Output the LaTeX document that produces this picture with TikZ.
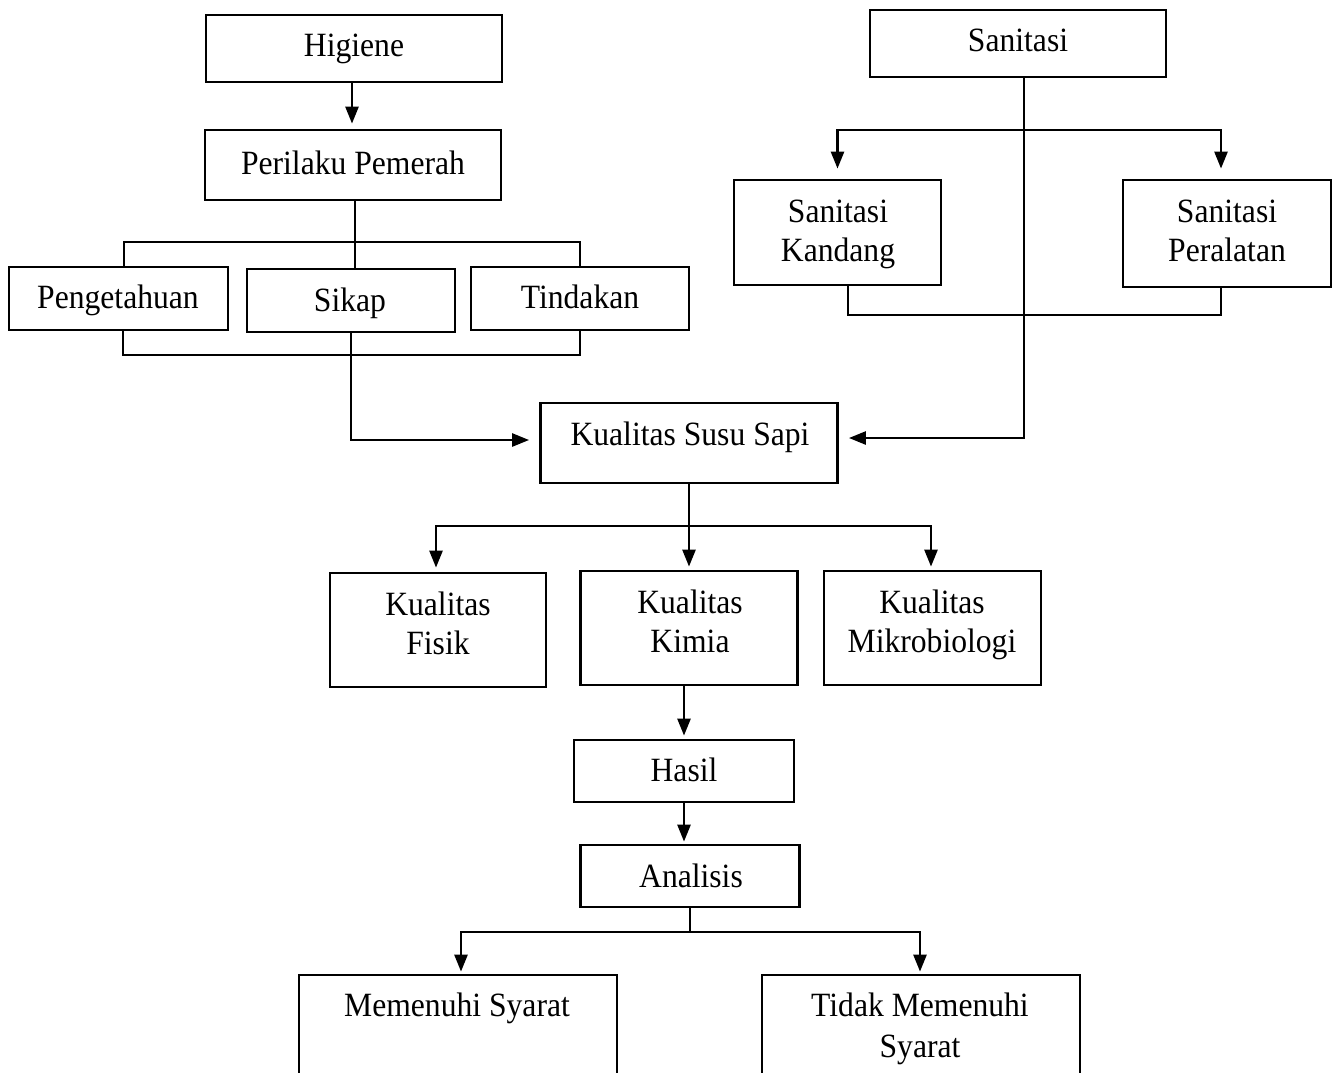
\documentclass[tikz,border=0pt]{standalone}
\usepackage{fontspec}
\setmainfont{Liberation Serif}[FakeStretch=0.93]
\usetikzlibrary{arrows.meta,calc}
\begin{document}
\begin{tikzpicture}[x=1pt,y=-1pt,
  box/.style={draw, line width=2.8pt, inner sep=0pt, rectangle},
  lbl/.style={font=\fontsize{34}{40}\selectfont, inner sep=0pt, align=center},
  conn/.style={line width=2.6pt},
  arr/.style={line width=2.6pt, -{Triangle[length=17pt,width=13pt]}}]
\useasboundingbox (0,0) rectangle (1335,1072);
% boxes
\node[box, minimum width=296pt, minimum height=67pt] (hig) at (354,48.5) {};
\node[box, minimum width=296pt, minimum height=70pt] (per) at (353,165) {};
\node[box, minimum width=219pt, minimum height=63pt] (pen) at (118.5,298.5) {};
\node[box, minimum width=208pt, minimum height=63pt] (sik) at (351,300.5) {};
\node[box, minimum width=218pt, minimum height=63pt] (tin) at (580,298.5) {};
\node[box, minimum width=297pt, minimum height=80pt] (kss) at (689,443) {};
\node[box, minimum width=296pt, minimum height=67pt] (san) at (1018,43.5) {};
\node[box, minimum width=207pt, minimum height=105pt] (sk) at (837.5,232.5) {};
\node[box, minimum width=208pt, minimum height=107pt] (sp) at (1227,233.5) {};
\node[box, minimum width=216pt, minimum height=114pt] (kf) at (438,630) {};
\node[box, minimum width=217pt, minimum height=114pt] (kk) at (689,628) {};
\node[box, minimum width=217pt, minimum height=114pt] (km) at (932.5,628) {};
\node[box, minimum width=220pt, minimum height=62pt] (has) at (684,771) {};
\node[box, minimum width=219pt, minimum height=62pt] (ana) at (690,876) {};
\node[box, minimum width=318pt, minimum height=125pt] (mem) at (458,1037.5) {};
\node[box, minimum width=318pt, minimum height=125pt] (tid) at (921,1037.5) {};
% labels
\node[lbl, anchor=base] (thig) at (354,56) {Higiene};
\node[lbl, anchor=base] (tper) at (353,174) {Perilaku Pemerah};
\node[lbl, anchor=base] (tpen) at (118,308) {Pengetahuan};
\node[lbl, anchor=base] (tsik) at (350,311) {Sikap};
\node[lbl, anchor=base] (ttin) at (580,308) {Tindakan};
\node[lbl, anchor=base] (tsan) at (1018,51) {Sanitasi};
\node[lbl, anchor=base] (tsk1) at (838,222) {Sanitasi};
\node[lbl, anchor=base] (tsk2) at (838,261) {Kandang};
\node[lbl, anchor=base] (tsp1) at (1227,222) {Sanitasi};
\node[lbl, anchor=base] (tsp2) at (1227,261) {Peralatan};
\node[lbl, anchor=base] (tkss) at (690,445) {Kualitas Susu Sapi};
\node[lbl, anchor=base] (tkf1) at (438,615) {Kualitas};
\node[lbl, anchor=base] (tkf2) at (438,654) {Fisik};
\node[lbl, anchor=base] (tkk1) at (690,613) {Kualitas};
\node[lbl, anchor=base] (tkk2) at (690,652) {Kimia};
\node[lbl, anchor=base] (tkm1) at (932,613) {Kualitas};
\node[lbl, anchor=base] (tkm2) at (932,652) {Mikrobiologi};
\node[lbl, anchor=base] (thas) at (684,781) {Hasil};
\node[lbl, anchor=base] (tana) at (691,887) {Analisis};
\node[lbl, anchor=base] (tmem) at (457,1016) {Memenuhi Syarat};
\node[lbl, anchor=base] (ttid1) at (920,1016) {Tidak Memenuhi};
\node[lbl, anchor=base] (ttid2) at (920,1057) {Syarat};
% junction coordinates
\coordinate (pbar) at (355,242);
\coordinate (pbot) at (352,355);
\coordinate (sbar) at (1024,130);
\coordinate (sbot) at (1024,315);
\coordinate (kbar) at (689,526);
\coordinate (abar) at (690,932);
% connectors
\draw[arr, shorten >=5pt] ($(hig.south)+(-2,0)$) -- ($(hig.south |- per.north)+(-2,0)$);
\draw[conn] (pbar |- per.south) -- (pbar |- sik.north);
\draw[conn] ($(pen.north)+(5.5,0)$) |- (pbar) -| (tin.north);
\draw[conn] ($(pen.south)+(4.5,0)$) |- (pbot) -| (tin.south);
\draw[arr, shorten >=10pt] (sik.south) |- ($(kss.west)+(0,-3)$);
\draw[arr, shorten >=10pt] (sbar |- san.south) |- ($(kss.east)+(0,-5)$);
\draw[arr, shorten >=10pt] (sbar) -| (sk.north);
\draw[arr, shorten >=10pt] (sbar) -| ($(sp.north)+(-6,0)$);
\draw[conn] ($(sk.south)+(10.5,0)$) |- (sbot) -| ($(sp.south)+(-6,0)$);
\draw[arr, shorten >=3pt] (kss.south) -- (kk.north);
\draw[arr, shorten >=4pt] (kbar) -| ($(kf.north)+(-2,0)$);
\draw[arr, shorten >=3pt] (kbar) -| ($(km.north)+(-1.5,0)$);
\draw[arr, shorten >=3pt] (has.north |- kk.south) -- (has.north);
\draw[arr, shorten >=2pt] (has.south) -- (has.south |- ana.north);
\draw[conn] (ana.south) -- (abar);
\draw[arr, shorten >=2pt] (abar) -| ($(mem.north)+(3,0)$);
\draw[arr, shorten >=2pt] (abar) -| ($(tid.north)+(-1,0)$);
\end{tikzpicture}
\end{document}
